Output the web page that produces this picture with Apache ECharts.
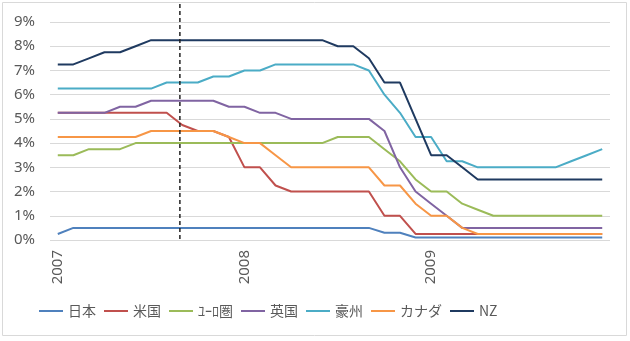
<!DOCTYPE html>
<html>
<head>
<meta charset="utf-8">
<script src="https://cdn.jsdelivr.net/npm/echarts@6/dist/echarts.min.js"></script>
<style>
html,body{margin:0;padding:0;background:#fff;}
#c{width:630px;height:341px;}
</style>
</head>
<body>
<div id="c"></div>
<script>
// Months Jan 2007 - Dec 2009
var months = [
  '2007/01','2007/02','2007/03','2007/04','2007/05','2007/06','2007/07','2007/08','2007/09','2007/10','2007/11','2007/12',
  '2008/01','2008/02','2008/03','2008/04','2008/05','2008/06','2008/07','2008/08','2008/09','2008/10','2008/11','2008/12',
  '2009/01','2009/02','2009/03','2009/04','2009/05','2009/06','2009/07','2009/08','2009/09','2009/10','2009/11','2009/12'
];
var seriesNames = ['日本','米国','ﾕｰﾛ圏','英国','豪州','カナダ','NZ'];
var japan  = [0.25,0.5,0.5,0.5,0.5,0.5,0.5,0.5,0.5,0.5,0.5,0.5, 0.5,0.5,0.5,0.5,0.5,0.5,0.5,0.5,0.5,0.3,0.3,0.1, 0.1,0.1,0.1,0.1,0.1,0.1,0.1,0.1,0.1,0.1,0.1,0.1];
var us     = [5.25,5.25,5.25,5.25,5.25,5.25,5.25,5.25,4.75,4.5,4.5,4.25, 3.0,3.0,2.25,2.0,2.0,2.0,2.0,2.0,2.0,1.0,1.0,0.25, 0.25,0.25,0.25,0.25,0.25,0.25,0.25,0.25,0.25,0.25,0.25,0.25];
var euro   = [3.5,3.5,3.75,3.75,3.75,4.0,4.0,4.0,4.0,4.0,4.0,4.0, 4.0,4.0,4.0,4.0,4.0,4.0,4.25,4.25,4.25,3.75,3.25,2.5, 2.0,2.0,1.5,1.25,1.0,1.0,1.0,1.0,1.0,1.0,1.0,1.0];
var uk     = [5.25,5.25,5.25,5.25,5.5,5.5,5.75,5.75,5.75,5.75,5.75,5.5, 5.5,5.25,5.25,5.0,5.0,5.0,5.0,5.0,5.0,4.5,3.0,2.0, 1.5,1.0,0.5,0.5,0.5,0.5,0.5,0.5,0.5,0.5,0.5,0.5];
var aus    = [6.25,6.25,6.25,6.25,6.25,6.25,6.25,6.5,6.5,6.5,6.75,6.75, 7.0,7.0,7.25,7.25,7.25,7.25,7.25,7.25,7.0,6.0,5.25,4.25, 4.25,3.25,3.25,3.0,3.0,3.0,3.0,3.0,3.0,3.25,3.5,3.75];
var canada = [4.25,4.25,4.25,4.25,4.25,4.25,4.5,4.5,4.5,4.5,4.5,4.25, 4.0,4.0,3.5,3.0,3.0,3.0,3.0,3.0,3.0,2.25,2.25,1.5, 1.0,1.0,0.5,0.25,0.25,0.25,0.25,0.25,0.25,0.25,0.25,0.25];
var nz     = [7.25,7.25,7.5,7.75,7.75,8.0,8.25,8.25,8.25,8.25,8.25,8.25, 8.25,8.25,8.25,8.25,8.25,8.25,8.0,8.0,7.5,6.5,6.5,5.0, 3.5,3.5,3.0,2.5,2.5,2.5,2.5,2.5,2.5,2.5,2.5,2.5];
var allData = [japan, us, euro, uk, aus, canada, nz];
var colors = ['#4F81BD','#C0504D','#9BBB59','#8064A2','#4BACC6','#F79646','#1F3A60'];
var yTicks = [0,1,2,3,4,5,6,7,8,9];
var markerPos = 7.85; // dashed vertical marker, in month-index units

var chart = echarts.init(document.getElementById('c'), null, {renderer:'canvas'});
var series = seriesNames.map(function(n, i){
  return {
    name: n, type: 'line', data: allData[i], symbol: 'none',
    lineStyle: {width: 2, color: colors[i]}, itemStyle: {color: colors[i]},
    animation: false
  };
});
chart.setOption({
  animation: false,
  grid: {left: 50, right: 20, top: 22, bottom: 101},
  xAxis: {
    type: 'category', data: months, boundaryGap: true,
    axisLine: {show: false}, axisTick: {show: false},
    axisLabel: {
      interval: 11, rotate: 90, margin: 10,
      color: '#595959', fontSize: 15, fontFamily: 'Noto Sans',
      formatter: function(v){ return v.slice(0,4); }
    },
    splitLine: {show: false}
  },
  yAxis: {
    type: 'value', min: yTicks[0], max: yTicks[yTicks.length-1], interval: 1,
    axisLine: {show: false}, axisTick: {show: false},
    axisLabel: {formatter: '{value}%', color: '#595959', fontSize: 15, fontFamily: 'Noto Sans', margin: 15},
    splitLine: {lineStyle: {color: '#d9d9d9', width: 1}}
  },
  legend: {
    data: seriesNames, left: 39, top: 304, padding: 0, icon: 'rect', itemWidth: 24, itemHeight: 2, itemGap: 8,
    textStyle: {color: '#595959', fontSize: 14, fontFamily: 'Noto Sans CJK JP'}
  },
  series: series
});

var x7 = chart.convertToPixel({xAxisIndex: 0}, Math.floor(markerPos));
var x8 = chart.convertToPixel({xAxisIndex: 0}, Math.floor(markerPos) + 1);
var mx = x7 + (x8 - x7) * (markerPos - Math.floor(markerPos));
var y0 = chart.convertToPixel({yAxisIndex: 0}, 0);
chart.setOption({
  graphic: [
    {type: 'rect', shape: {x: 2.5, y: 2.5, width: 624, height: 333}, style: {fill: 'none', stroke: '#d9d9d9', lineWidth: 1}, silent: true},
    {type: 'line', shape: {x1: mx, y1: 4, x2: mx, y2: y0 + 2}, style: {stroke: '#222', lineWidth: 1.5, lineDash: [4, 3]}, z: 100, silent: true}
  ]
});
</script>
</body>
</html>
